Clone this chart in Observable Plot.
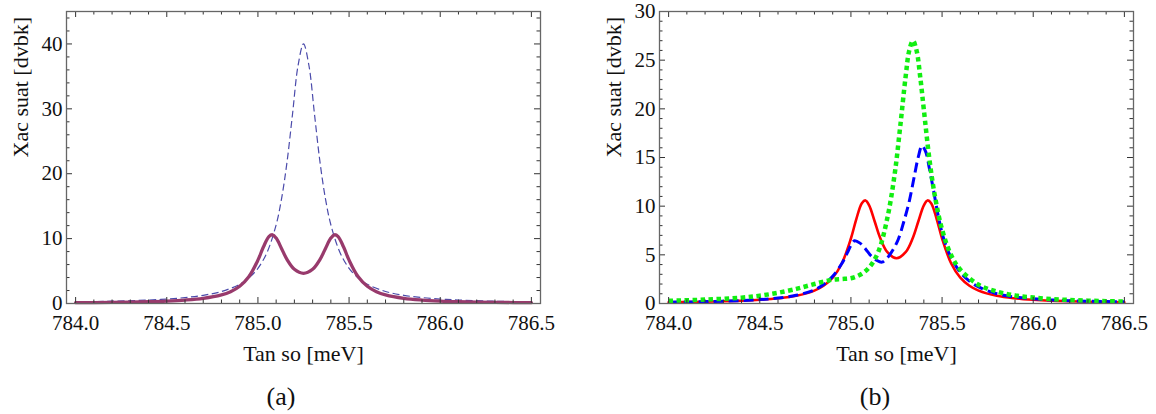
<!DOCTYPE html>
<html>
<head>
<meta charset="utf-8">
<script src="https://cdn.jsdelivr.net/npm/d3@7"></script>
<script src="https://cdn.jsdelivr.net/npm/@observablehq/plot@0.6"></script>
</head>
<body style="margin:0; background:#fff">
<div style="display:flex; width:1156px; height:414px; overflow:hidden">
  <div style="width:578px">
    <div id="pa"></div>
    <div style="font-family:'Liberation Serif'; font-size:26px; color:#111; line-height:32px; padding-top:11px; padding-right:16px; text-align:center">(a)</div>
  </div>
  <div style="width:578px">
    <div id="pb"></div>
    <div style="font-family:'Liberation Serif'; font-size:26px; color:#111; line-height:32px; padding-top:11px; padding-left:16px; text-align:center">(b)</div>
  </div>
</div>
<script>
// ---------- data ----------
const xLabel = "Tan so [meV]";
const yLabel = "Xac suat [dvbk]";

const xMajor = [784.0, 784.5, 785.0, 785.5, 786.0, 786.5];
const xMinor = [784.1, 784.2, 784.3, 784.4, 784.6, 784.7, 784.8, 784.9, 785.1, 785.2, 785.3, 785.4,
                785.6, 785.7, 785.8, 785.9, 786.1, 786.2, 786.3, 786.4];
const yMajorA = [0, 10, 20, 30, 40];
const yMinorA = [2, 4, 6, 8, 12, 14, 16, 18, 22, 24, 26, 28, 32, 34, 36, 38, 42, 44];
const yMajorB = [0, 5, 10, 15, 20, 25, 30];
const yMinorB = [1, 2, 3, 4, 6, 7, 8, 9, 11, 12, 13, 14, 16, 17, 18, 19, 21, 22, 23, 24, 26, 27, 28, 29];

// two-peak solid curve (panel a purple, panel b red)
const splitX = [784.0, 784.1, 784.2, 784.3, 784.4, 784.5, 784.6, 784.7, 784.8, 784.85, 784.9, 784.95, 785.0,
                785.03, 785.06, 785.08, 785.1, 785.13, 785.16, 785.2, 785.25, 785.3, 785.34, 785.37, 785.4,
                785.42, 785.44, 785.47, 785.5, 785.55, 785.6, 785.65, 785.7, 785.8, 785.9, 786.0, 786.1,
                786.2, 786.3, 786.4, 786.5];
const splitY = [0.126, 0.150, 0.182, 0.226, 0.288, 0.381, 0.531, 0.794, 1.327, 1.823, 2.65, 4.11, 6.68,
                8.70, 10.31, 10.59, 10.08, 8.45, 6.76, 5.27, 4.65, 5.27, 6.76, 8.45, 10.08,
                10.59, 10.31, 8.70, 6.68, 4.11, 2.65, 1.823, 1.327, 0.794, 0.531, 0.381, 0.288,
                0.226, 0.182, 0.150, 0.126];

// single peak dashed curve (panel a)
const singleX = [784.0, 784.2, 784.4, 784.5, 784.6, 784.7, 784.8, 784.9, 784.95, 785.0, 785.05, 785.1,
                 785.13, 785.16, 785.19, 785.22, 785.25, 785.28, 785.31, 785.34, 785.37, 785.4, 785.45,
                 785.5, 785.55, 785.6, 785.7, 785.8, 785.9, 786.0, 786.1, 786.3, 786.5];
const singleY = [0.249, 0.352, 0.535, 0.685, 0.91, 1.26, 1.85, 2.96, 3.93, 5.42, 7.87, 12.14,
                 16.2, 21.9, 29.25, 36.64, 40.0, 36.64, 29.25, 21.9, 16.2, 12.14, 7.87,
                 5.42, 3.93, 2.96, 1.85, 1.26, 0.91, 0.685, 0.535, 0.352, 0.249];

// blue dashed curve (panel b)
const blueX = [784.0, 784.1, 784.2, 784.3, 784.4, 784.5, 784.6, 784.7, 784.8, 784.85, 784.9, 784.95, 784.98,
               785.0, 785.02, 785.05, 785.08, 785.11, 785.14, 785.17, 785.2, 785.23, 785.26, 785.29, 785.32,
               785.35, 785.37, 785.39, 785.41, 785.43, 785.45, 785.48, 785.51, 785.55, 785.6, 785.65,
               785.7, 785.8, 785.9, 786.0, 786.1, 786.2, 786.3, 786.4, 786.5];
const blueY = [0.13, 0.155, 0.19, 0.235, 0.3, 0.4, 0.56, 0.84, 1.4, 1.95, 2.8, 4.1, 5.2,
               5.95, 6.45, 6.2, 5.6, 4.9, 4.45, 4.25, 4.7, 5.5, 6.6, 8.4, 10.5,
               13.3, 15.1, 16.2, 15.6, 13.9, 11.95, 8.9, 6.6, 4.7, 3.2, 2.3,
               1.7, 1.0, 0.66, 0.48, 0.37, 0.29, 0.24, 0.2, 0.17];

// green dotted curve (panel b)
const greenX = [784.0, 784.2, 784.4, 784.5, 784.6, 784.7, 784.75, 784.8, 784.85, 784.9, 784.95, 785.0,
                785.05, 785.1, 785.15, 785.2, 785.24, 785.27, 785.3, 785.32, 785.34, 785.36, 785.38,
                785.4, 785.43, 785.46, 785.5, 785.55, 785.6, 785.7, 785.8, 785.9, 786.0, 786.1,
                786.2, 786.3, 786.4, 786.5];
const greenY = [0.28, 0.4, 0.6, 0.8, 1.1, 1.5, 1.75, 2.0, 2.25, 2.45, 2.52, 2.6,
                2.95, 3.7, 5.3, 8.8, 13.3, 18.1, 23.3, 26.0, 27.0, 26.0, 23.3,
                19.9, 14.9, 11.1, 7.6, 4.95, 3.48, 1.93, 1.22, 0.83, 0.61, 0.46,
                0.36, 0.29, 0.24, 0.2];

const xDomain = [783.95, 786.55];

// ---------- helpers ----------
const zip = (xs, ys) => xs.map((x, i) => ({x, y: ys[i]}));
const W = 578, H = 370, MT = 11, MB = 67;
const tickInk = "#333";

function frameMarks(plotW, plotH, yMajor, yMinor) {
  const maj = 6, mn = 3.5;
  const txt = {fontFamily: "Liberation Serif", fill: "#111", lineAnchor: "middle"};
  return [
    Plot.tickX(xMajor, {x: d => d, insetTop: plotH - maj, stroke: tickInk}),
    Plot.tickX(xMinor, {x: d => d, insetTop: plotH - mn, stroke: tickInk}),
    Plot.tickX(xMajor, {x: d => d, insetBottom: plotH - maj, stroke: tickInk}),
    Plot.tickX(xMinor, {x: d => d, insetBottom: plotH - mn, stroke: tickInk}),
    Plot.tickY(yMajor, {y: d => d, insetRight: plotW - maj, stroke: tickInk}),
    Plot.tickY(yMinor, {y: d => d, insetRight: plotW - mn, stroke: tickInk}),
    Plot.tickY(yMajor, {y: d => d, insetLeft: plotW - maj, stroke: tickInk}),
    Plot.tickY(yMinor, {y: d => d, insetLeft: plotW - mn, stroke: tickInk}),
    Plot.frame({stroke: "#666", strokeWidth: 1.3}),
    Plot.text(xMajor, {x: d => d, frameAnchor: "bottom", dy: 20, text: d => d.toFixed(1), fontSize: 21, ...txt}),
    Plot.text(yMajor, {y: d => d, frameAnchor: "left", dx: -4, textAnchor: "end", text: d => String(d), fontSize: 21, ...txt}),
    Plot.text([xLabel], {frameAnchor: "bottom", dy: 50, text: d => d, fontSize: 22, ...txt}),
    Plot.text([yLabel], {frameAnchor: "left", dx: -46, rotate: -90, text: d => d, fontSize: 22, ...txt})
  ];
}

// ---------- panel (a) ----------
{
  const ML = 66, MR = 38;
  const plotW = W - ML - MR, plotH = H - MT - MB;
  const chart = Plot.plot({
    width: W, height: H,
    marginLeft: ML, marginRight: MR, marginTop: MT, marginBottom: MB,
    style: {fontFamily: "Liberation Serif", background: "white"},
    x: {domain: xDomain, axis: null},
    y: {domain: [0, 45], axis: null},
    marks: [
      Plot.line(zip(singleX, singleY), {x: "x", y: "y", stroke: "#4b4bab", strokeWidth: 1.2, strokeDasharray: "7,3.5", strokeLinecap: "butt", curve: "catmull-rom"}),
      Plot.line(zip(splitX, splitY), {x: "x", y: "y", stroke: "#983a6c", strokeWidth: 3.3, curve: "catmull-rom"}),
      ...frameMarks(plotW, plotH, yMajorA, yMinorA)
    ]
  });
  document.getElementById("pa").appendChild(chart);
}

// ---------- panel (b) ----------
{
  const ML = 81, MR = 23;
  const plotW = W - ML - MR, plotH = H - MT - MB;
  const chart = Plot.plot({
    width: W, height: H,
    marginLeft: ML, marginRight: MR, marginTop: MT, marginBottom: MB,
    style: {fontFamily: "Liberation Serif", background: "white"},
    x: {domain: xDomain, axis: null},
    y: {domain: [0, 30], axis: null},
    marks: [
      Plot.line(zip(splitX, splitY), {x: "x", y: "y", stroke: "#ff0000", strokeWidth: 2.6, curve: "catmull-rom"}),
      Plot.line(zip(blueX, blueY), {x: "x", y: "y", stroke: "#0000ff", strokeWidth: 3, strokeDasharray: "10,5", strokeLinecap: "butt", curve: "catmull-rom"}),
      Plot.line(zip(greenX, greenY), {x: "x", y: "y", stroke: "#11ee11", strokeWidth: 4.5, strokeDasharray: "4.5,3.5", strokeLinecap: "butt", curve: "catmull-rom"}),
      ...frameMarks(plotW, plotH, yMajorB, yMinorB)
    ]
  });
  document.getElementById("pb").appendChild(chart);
}
</script>
</body>
</html>
